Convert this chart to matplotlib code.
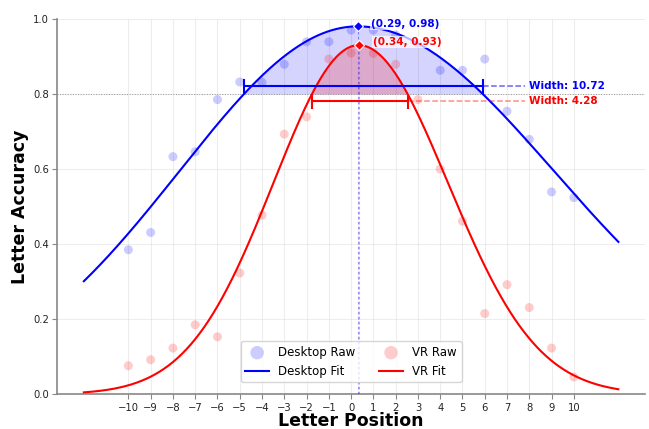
import numpy as np
import matplotlib
matplotlib.use("Agg")
import matplotlib.pyplot as plt

# raw letter accuracy by position
positions = list(range(-10, 11))
desktop_raw = [0.385, 0.431, 0.633, 0.646, 0.785, 0.832, 0.831, 0.879, 0.939, 0.939,
               0.970, 0.970, 0.957, 0.935, 0.863, 0.863, 0.893, 0.754, 0.679, 0.539, 0.524]
vr_raw = [0.076, 0.092, 0.123, 0.185, 0.153, 0.323, 0.477, 0.693, 0.739, 0.893,
          0.909, 0.908, 0.879, 0.785, 0.600, 0.461, 0.215, 0.292, 0.231, 0.123, 0.046]

# fitted asymmetric gaussian parameters (peak x, peak y, sigma left, sigma right)
desktop_fit = (0.29, 0.98, 8.00, 8.82)
vr_fit = (0.34, 0.93, 3.82, 4.00)
desktop_width = 10.72
vr_width = 4.28
THRESH = 0.8

BLUE, RED = "blue", "red"


def split_gauss(x, mu, amp, sl, sr):
    s = np.where(x < mu, sl, sr)
    return amp * np.exp(-(x - mu) ** 2 / (2 * s ** 2))


def crossings(mu, amp, sl, sr, level):
    k = np.sqrt(2 * np.log(amp / level))
    return mu - sl * k, mu + sr * k


xs = np.linspace(-12, 12, 600)
fig, ax = plt.subplots(figsize=(6.49, 4.29), dpi=100)
fig.subplots_adjust(left=0.088, right=0.994, top=0.956, bottom=0.081)

ax.grid(True, color="#dddddd", alpha=0.5, linewidth=0.8)
ax.set_axisbelow(True)

ax.scatter(positions, desktop_raw, s=42, color=BLUE, alpha=0.2, edgecolors="none",
           label="Desktop Raw", zorder=2)
yd = split_gauss(xs, *desktop_fit)
ax.plot(xs, yd, color=BLUE, lw=1.5, label="Desktop Fit", zorder=3)
ax.scatter(positions, vr_raw, s=42, color=RED, alpha=0.2, edgecolors="none",
           label="VR Raw", zorder=2)
yv = split_gauss(xs, *vr_fit)
ax.plot(xs, yv, color=RED, lw=1.5, label="VR Fit", zorder=3)

ax.fill_between(xs, THRESH, yd, where=yd > THRESH, color=BLUE, alpha=0.17,
                lw=0, zorder=1)
ax.fill_between(xs, THRESH, yv, where=yv > THRESH, color=RED, alpha=0.2,
                lw=0, zorder=1)
ax.axhline(THRESH, color="gray", ls=":", lw=0.7, alpha=0.8, zorder=1)

for fit, width, ybar, col, ls_alpha in [(desktop_fit, desktop_width, 0.82, BLUE, 0.6),
                                         (vr_fit, vr_width, 0.78, RED, 0.45)]:
    mu, amp, sl, sr = fit
    x0, x1 = crossings(mu, amp, sl, sr, THRESH)
    ax.plot([x0, x1], [ybar, ybar], color=col, lw=1.5, zorder=4)
    ax.plot([x0, x0], [ybar - 0.018, ybar + 0.018], color=col, lw=1.5, zorder=4)
    ax.plot([x1, x1], [ybar - 0.018, ybar + 0.018], color=col, lw=1.5, zorder=4)
    ax.plot([x1, 7.8], [ybar, ybar], color=col, lw=1.1, ls="--", alpha=ls_alpha, zorder=4)
    ax.text(8.0, ybar, f"Width: {width:.2f}", color=col, fontsize=7.5,
            fontweight="bold", va="center", ha="left")
    ax.plot([mu, mu], [0, amp], color=col, lw=0.8, ls=(0, (2.5, 2)), alpha=0.4, zorder=4)
    ax.plot(mu, amp, marker="D", color=col, markersize=5, markeredgecolor="white",
            markeredgewidth=0.8, zorder=6)
    ax.annotate(f"({mu:.2f}, {amp:.2f})", (mu, amp), xytext=(10, 2),
                textcoords="offset points", color=col, fontsize=7.5,
                fontweight="bold", va="center", ha="left", zorder=7,
                bbox=dict(boxstyle="square,pad=0.1", fc="white", ec="none", alpha=0.7))

ax.set_ylim(0, 1.0)
ax.set_xticks(positions)
ax.tick_params(labelsize=7.2, colors="#222222", pad=2.5)
ax.tick_params(axis="both", color="#888888")
for side in ("top", "right"):
    ax.spines[side].set_visible(False)
for side in ("left", "bottom"):
    ax.spines[side].set_color("#888888")
    ax.spines[side].set_linewidth(1.2)

ax.set_xlabel("Letter Position", fontsize=12.5, fontweight="bold")
ax.set_ylabel("Letter Accuracy", fontsize=12.5, fontweight="bold")
ax.xaxis.set_label_coords(0.5, -0.046)
ax.yaxis.set_label_coords(-0.047, 0.5)

ax.legend(loc="lower center", ncol=2, fontsize=8.5, markerscale=1.5,
          framealpha=0.8, borderaxespad=1.0, columnspacing=2.0)

fig.savefig("out.png", dpi=100)
